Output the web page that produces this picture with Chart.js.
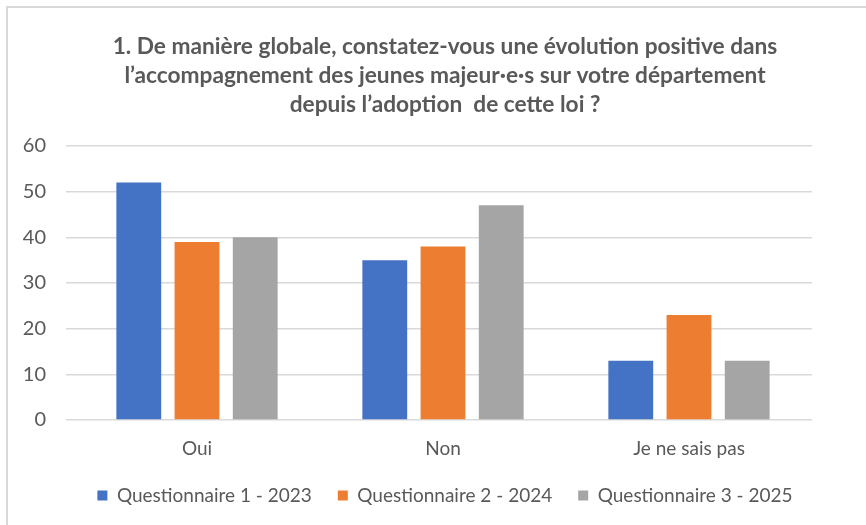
<!DOCTYPE html>
<html>
<head>
<meta charset="utf-8">
<script src="https://cdn.jsdelivr.net/npm/chart.js@4"></script>
<style>
  body { margin: 0; background: #fff; overflow: hidden; }
  #cadre {
    position: absolute; left: 6px; top: 6px;
    width: 880px; height: 519px;
    border-top: 2px solid #d9d9d9; border-left: 2px solid #d9d9d9;
    box-sizing: border-box;
  }
  #cadre canvas { display: block; }
</style>
</head>
<body>
<div id="cadre"><canvas id="graphique" width="874" height="517"></canvas></div>
<script>
const categories = ["Oui", "Non", "Je ne sais pas"];
const q2023 = [52, 35, 13];
const q2024 = [39, 38, 23];
const q2025 = [40, 47, 13];
const ticksY = [0, 10, 20, 30, 40, 50, 60];

const titre = [
  "1. De manière globale, constatez-vous une évolution positive dans",
  "l’accompagnement des jeunes majeur·e·s sur votre département",
  "depuis l’adoption  de cette loi ?"
];

const gris = "#595959";
const police = "Lato, 'Open Sans', sans-serif";

new Chart(document.getElementById("graphique"), {
  type: "bar",
  data: {
    labels: categories,
    datasets: [
      { label: "Questionnaire 1 - 2023", data: q2023, backgroundColor: "#4472C4" },
      { label: "Questionnaire 2 - 2024", data: q2024, backgroundColor: "#ED7D31" },
      { label: "Questionnaire 3 - 2025", data: q2025, backgroundColor: "#A5A5A5" }
    ]
  },
  options: {
    responsive: false,
    animation: false,
    datasets: { bar: { categoryPercentage: 0.71, barPercentage: 0.77 } },
    layout: { padding: { left: 0, right: 0, top: 12, bottom: 10 } },
    scales: {
      x: {
        grid: { display: false },
        border: { display: false },
        ticks: { color: gris, font: { family: police, size: 19 }, padding: 9 },
        afterFit: s => { s.height = 40; }
      },
      y: {
        min: 0, max: 60,
        afterBuildTicks: axe => { axe.ticks = ticksY.map(v => ({ value: v })); },
        grid: { color: "#d9d9d9", lineWidth: 1.5 },
        border: { display: false },
        ticks: { color: gris, font: { family: police, size: 20 }, padding: 20 },
        afterFit: s => { s.width = 66; }
      },
      marge: {
        type: "linear",
        position: "right",
        grid: { display: false },
        border: { display: false },
        ticks: { display: false },
        afterFit: s => { s.width = 70; }
      }
    },
    plugins: {
      title: {
        display: true,
        text: titre,
        color: gris,
        font: { family: police, size: 22.7, weight: "bold", lineHeight: "29px" },
        padding: { top: 12, bottom: 27 }
      },
      legend: {
        position: "bottom",
        labels: {
          color: gris,
          font: { family: police, size: 19 },
          boxWidth: 10, boxHeight: 10,
          padding: 26
        }
      },
      tooltip: { enabled: false }
    }
  }
});
</script>
</body>
</html>
